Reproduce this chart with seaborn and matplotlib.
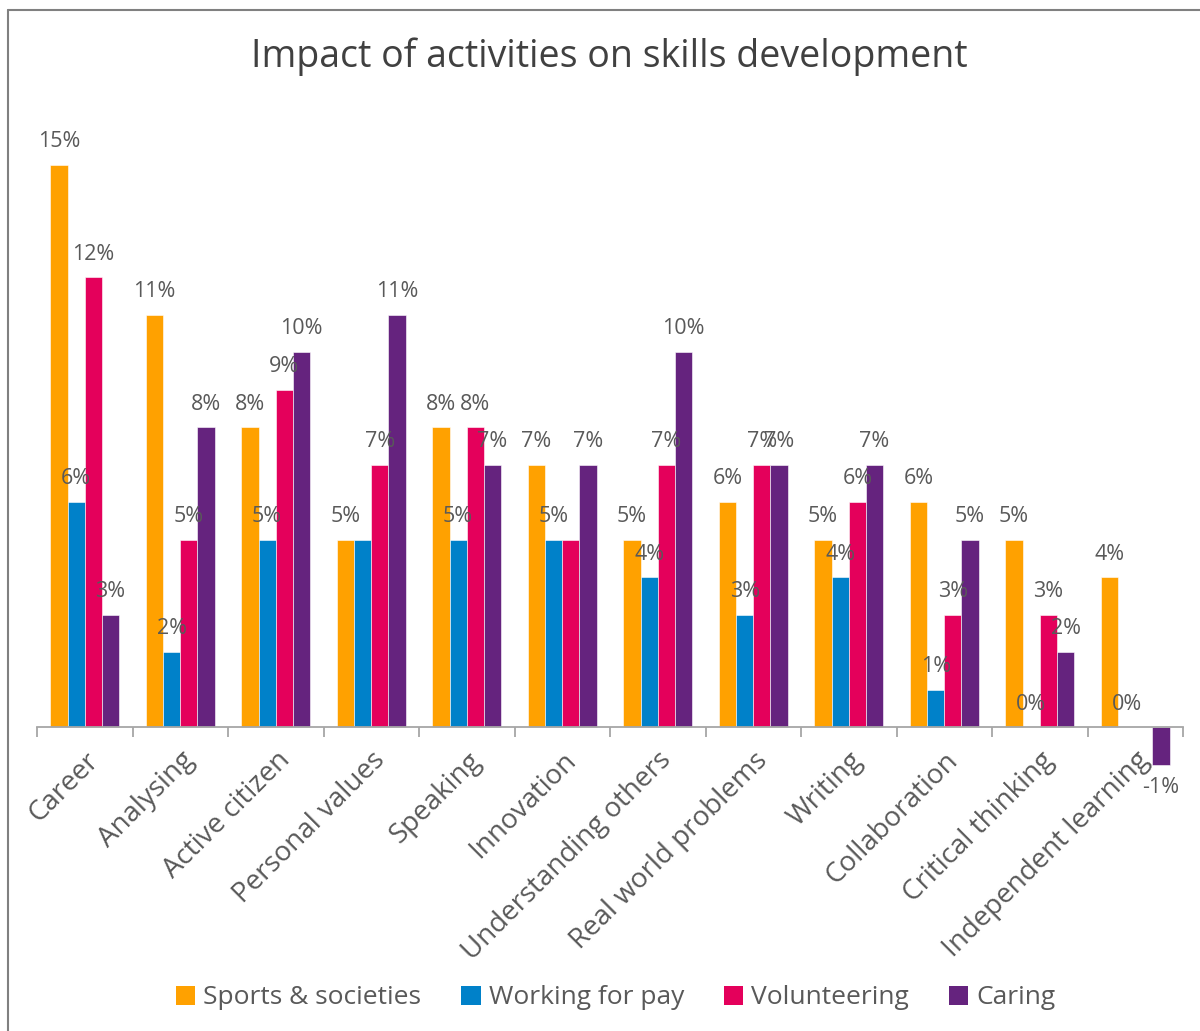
import numpy as np
import pandas as pd
import matplotlib
matplotlib.use("Agg")
import matplotlib.pyplot as plt
import seaborn as sns
from matplotlib.patches import Patch
from matplotlib.lines import Line2D

categories = ["Career", "Analysing", "Active citizen", "Personal values", "Speaking",
              "Innovation", "Understanding others", "Real world problems", "Writing",
              "Collaboration", "Critical thinking", "Independent learning"]
series = ["Sports & societies", "Working for pay", "Volunteering", "Caring"]
sports = [15, 11, 8, 5, 8, 7, 5, 6, 5, 6, 5, 4]
working = [6, 2, 5, 5, 5, 5, 4, 3, 4, 1, 0, 0]
volunteering = [12, 5, 9, 7, 8, 5, 7, 7, 6, 3, 3, np.nan]
caring = [3, 8, 10, 11, 7, 7, 10, 7, 7, 5, 2, -1]
colors = ["#FFA100", "#0081C9", "#E4005B", "#65237E"]
# labels not shown in the reference (hidden behind neighbours there)
hidden_labels = [("Working for pay", "Personal values"), ("Volunteering", "Innovation")]

rows = []
for s, vals in zip(series, [sports, working, volunteering, caring]):
    for c, v in zip(categories, vals):
        rows.append({"skill": c, "activity": s, "value": v})
df = pd.DataFrame(rows)

sns.set_theme(style="white")
plt.rcParams["font.family"] = ["Open Sans", "DejaVu Sans"]
text_color = "#595959"

fig = plt.figure(figsize=(12, 10.31), dpi=100)
ax = fig.add_axes([37 / 1200, 1 - 802 / 1031, (1183 - 37) / 1200, 675 / 1031])

sns.barplot(data=df, x="skill", y="value", hue="activity", order=categories,
            hue_order=series, palette=colors, width=0.72, dodge=True, gap=0,
            errorbar=None, ax=ax, legend=False, saturation=1,
            edgecolor="white", linewidth=0.4)

for s, cont in zip(series, ax.containers):
    labels = []
    for c, v in zip(categories, cont.datavalues):
        if np.isnan(v) or (s, c) in hidden_labels:
            labels.append("")
        else:
            labels.append(f"{v:.0f}%")
    ax.bar_label(cont, labels=labels, padding=9, fontsize=15.5, color=text_color)

ax.set_xlim(-0.5, len(categories) - 0.5)
ax.set_ylim(-2, 16)
ax.set_xlabel("")
ax.set_ylabel("")
ax.set_yticks([])
for sp in ["top", "right", "left"]:
    ax.spines[sp].set_visible(False)
ax.spines["bottom"].set_position(("data", 0))
ax.spines["bottom"].set_color("#A6A6A6")
ax.spines["bottom"].set_linewidth(1.3)

ax.set_xticks(np.arange(len(categories)))
ax.set_xticks(np.arange(len(categories) + 1) - 0.5, minor=True)
ax.set_xticklabels(categories, rotation=45, ha="right", rotation_mode="anchor",
                   fontsize=20, color=text_color)
ax.tick_params(axis="x", which="major", length=0, pad=14)
ax.tick_params(axis="x", which="minor", length=7, width=1.3, color="#A6A6A6",
               direction="out", bottom=True)

fig.text(0.508, 1 - 57 / 1031, "Impact of activities on skills development",
         ha="center", va="center", fontsize=27, color="#404040")

handles = [Patch(facecolor=c, edgecolor="none") for c in colors]
fig.legend(handles, series, loc="center", bbox_to_anchor=(0.513, 1 - 998 / 1031),
           ncol=4, frameon=False, fontsize=19, labelcolor=text_color,
           handlelength=0.75, handleheight=0.75, handletextpad=0.3,
           columnspacing=1.5)

fig.add_artist(Line2D([8 / 1200, 8 / 1200], [0, 1 - 10 / 1031],
                      transform=fig.transFigure, color="#808080", lw=1.5))
fig.add_artist(Line2D([8 / 1200, 1], [1 - 10 / 1031, 1 - 10 / 1031],
                      transform=fig.transFigure, color="#808080", lw=1.5))

fig.savefig("out.png", dpi=100)
